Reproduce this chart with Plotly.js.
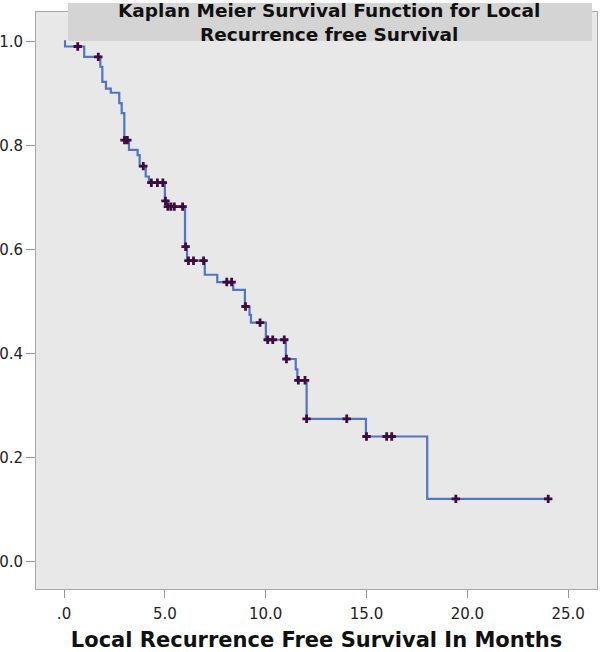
<!DOCTYPE html>
<html>
<head>
<meta charset="utf-8">
<script src="https://cdn.plot.ly/plotly-3.0.1.min.js"></script>
<style>
  body { margin: 0; background: #fff; }
  #chart { width: 600px; height: 652px; }
</style>
</head>
<body>
<div id="chart"></div>
<script>
// step curve: time of each event and survival just after it
let eventTimes = [0, 0.05, 1.00, 1.80, 1.90, 2.08, 2.32, 2.74, 2.86, 2.99, 3.22, 3.65, 3.75, 4.05, 4.21,
  5.00, 5.10, 6.00, 6.10, 6.98, 7.60, 8.39, 8.97, 9.20, 9.27, 10.01, 11.00, 11.49, 11.57, 12.03,
  14.97, 18.01, 24.01];
let eventSurv = [1.0, 0.990, 0.970, 0.951, 0.922, 0.909, 0.901, 0.881, 0.862, 0.810, 0.791, 0.781, 0.760, 0.740, 0.728,
  0.693, 0.682, 0.605, 0.578, 0.551, 0.537, 0.522, 0.490, 0.474, 0.459, 0.426, 0.389, 0.369, 0.348, 0.274,
  0.240, 0.120, 0.120];

// censored cases
let censorTimes = [0.68, 1.70, 3.00, 3.14, 3.93, 4.33, 4.63, 4.90, 5.03, 5.15, 5.30, 5.47, 5.88,
  6.03, 6.17, 6.42, 6.92, 8.07, 8.31, 9.00, 9.72, 10.10, 10.35, 10.92, 11.03, 11.62, 11.95,
  12.03, 14.02, 15.00, 16.00, 16.25, 19.43, 24.01];
let censorSurv = [0.990, 0.970, 0.810, 0.810, 0.760, 0.728, 0.728, 0.728, 0.693, 0.682, 0.682, 0.682, 0.682,
  0.605, 0.578, 0.578, 0.578, 0.537, 0.537, 0.490, 0.459, 0.426, 0.426, 0.426, 0.389, 0.348, 0.348,
  0.274, 0.274, 0.240, 0.240, 0.240, 0.120, 0.120];

let xTickVals = [0, 5, 10, 15, 20, 25];
let xTickText = [".0", "5.0", "10.0", "15.0", "20.0", "25.0"];
let yTickVals = [0, 0.2, 0.4, 0.6, 0.8, 1.0];
let yTickText = ["0.0", "0.2", "0.4", "0.6", "0.8", "1.0"];

let lineTrace = {
  x: eventTimes,
  y: eventSurv,
  mode: 'lines',
  line: { shape: 'hv', color: '#4f74c8', width: 2.2 },
  hoverinfo: 'skip'
};
let censorTrace = {
  x: censorTimes,
  y: censorSurv,
  mode: 'markers',
  marker: { symbol: 'cross', size: 7, color: '#3d0b3d', line: { width: 0 } }
};

let tickFont = { family: 'DejaVu Sans', size: 15, color: '#222' };

let layout = {
  width: 600,
  height: 652,
  margin: { l: 36, r: 3, t: 12, b: 63 },
  paper_bgcolor: '#ffffff',
  plot_bgcolor: '#e8e8e8',
  showlegend: false,
  xaxis: {
    range: [-1.39, 26.43],
    tickvals: xTickVals,
    ticktext: xTickText,
    ticks: 'outside',
    ticklen: 8,
    tickcolor: '#999',
    tickfont: tickFont,
    ticklabelstandoff: 3,
    showgrid: false,
    zeroline: false,
    showline: true,
    mirror: true,
    linecolor: '#a8a8a8',
    linewidth: 1,
    title: {
      text: 'Local Recurrence Free Survival In Months',
      font: { family: 'DejaVu Sans', size: 21, color: '#111', weight: 'bold' },
      standoff: 12
    }
  },
  yaxis: {
    range: [-0.0533, 1.0563],
    tickvals: yTickVals,
    ticktext: yTickText,
    ticks: 'outside',
    ticklen: 9,
    tickcolor: '#999',
    tickfont: tickFont,
    showgrid: false,
    zeroline: false,
    showline: true,
    mirror: true,
    linecolor: '#a8a8a8',
    linewidth: 1
  },
  shapes: [{
    type: 'rect', xref: 'paper', yref: 'paper',
    x0: (68 - 36) / 561, x1: (592 - 36) / 561,
    y0: (589 - 41) / 577, y1: (589 - 3) / 577,
    fillcolor: '#d4d4d4', line: { width: 0 }, layer: 'above'
  }],
  annotations: [
    { text: 'Kaplan Meier Survival Function for Local<br>Recurrence free Survival',
      xref: 'paper', yref: 'paper',
      x: (329 - 36) / 561, y: (589 - 22.5) / 577, xanchor: 'center', yanchor: 'middle', showarrow: false,
      font: { family: 'DejaVu Sans', size: 18.5, color: '#111', weight: 'bold' } }
  ]
};

Plotly.newPlot('chart', [lineTrace, censorTrace], layout, { displayModeBar: false });
</script>
</body>
</html>
